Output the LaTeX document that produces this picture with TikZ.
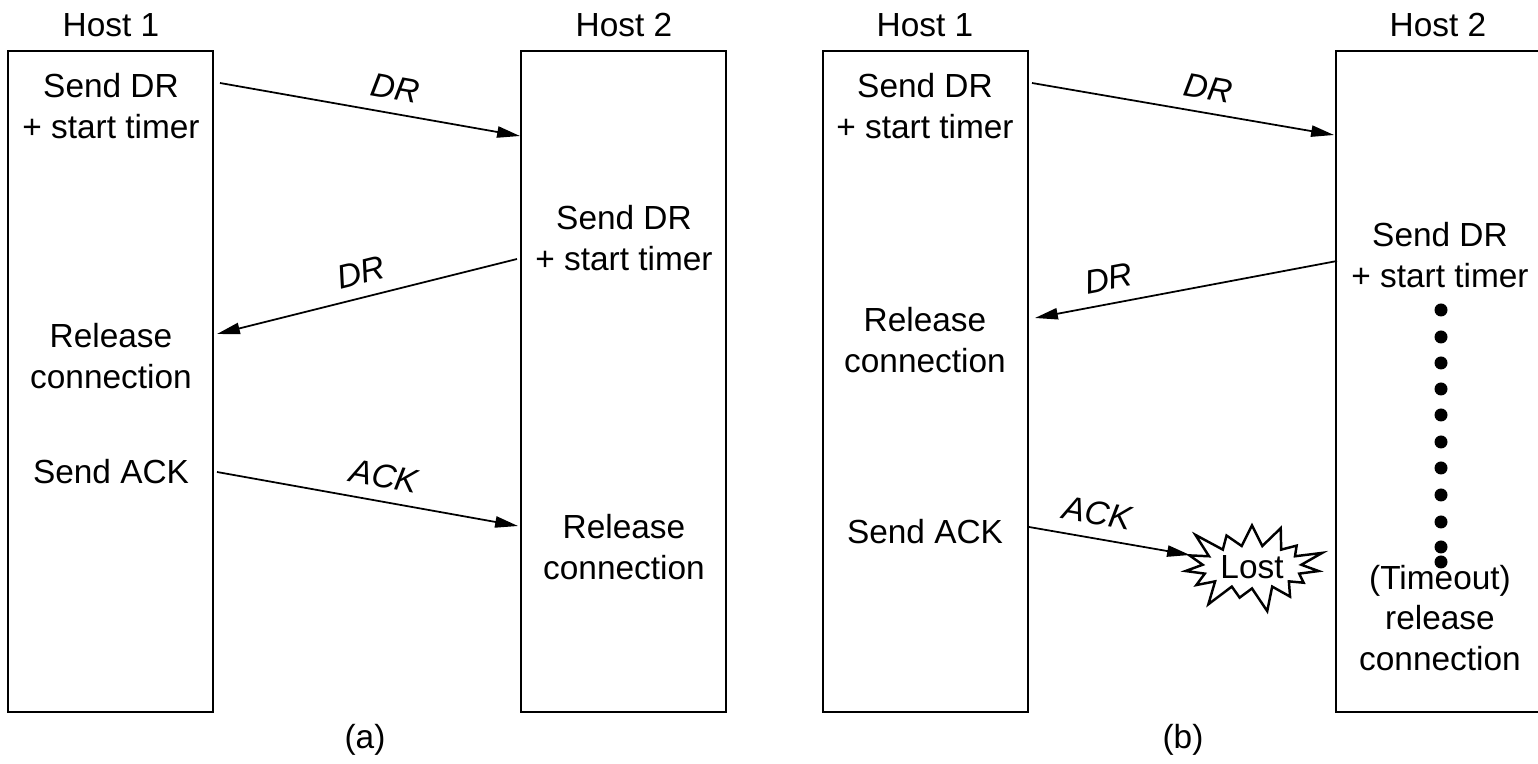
\documentclass[tikz,border=0pt]{standalone}
\usepackage{fontspec}
\setmainfont{Liberation Sans}
\usepackage{tikz}
\usetikzlibrary{arrows.meta,shapes.symbols}

\begin{document}
\begin{tikzpicture}[x=0.01cm,y=-0.01cm,font=\fontsize{9.5}{11.5}\selectfont,
  hostbox/.style={draw,line width=.7pt},
  msg/.style={line width=.5pt,-{Triangle[length=6.5pt,width=3.2pt]}},
  back/.style={line width=.5pt,{Triangle[length=6.5pt,width=3.2pt]}-},
  tag/.style={font=\fontsize{9.5}{11.5}\selectfont\itshape,sloped,above=.3pt},
  txt/.style={align=center,inner sep=0pt}]
  \useasboundingbox (0,0) rectangle (1538,764);

  % (a) normal release
  \draw[hostbox] (8,51) rectangle (213,712);
  \draw[hostbox] (521,51) rectangle (726,712);
  \node[txt] (hostAone) at (111,25) {Host 1};
  \node[txt] (hostAtwo) at (624,25) {Host 2};
  \node[txt] (sendA) at (111,106) {Send DR\\+ start timer};
  \node[txt] (sendAtwo) at (624,238) {Send DR\\+ start timer};
  \node[txt] (relA) at (111,356) {Release\\connection};
  \node[txt] (ackA) at (111,472) {Send ACK};
  \node[txt] (relAtwo) at (624,547) {Release\\connection};
  \node[txt] (capA) at (365,740) {(a)};

  \coordinate (drAs) at (220,83);  \coordinate (drAe) at (520,136);
  \coordinate (dbAs) at (517,259); \coordinate (dbAe) at (217,334);
  \coordinate (akAs) at (217,472); \coordinate (akAe) at (518,526);
  \draw[msg] (drAs) -- (drAe) node[tag,pos=.57] {DR};
  \draw[back] (dbAe) -- (dbAs) node[tag,pos=.5] {DR};
  \draw[msg] (akAs) -- (akAe) node[tag,pos=.54] {ACK};

  % (b) final ACK lost
  \draw[hostbox] (823,51) rectangle (1028,712);
  \draw[hostbox] (1336,51) rectangle (1541,712);
  \node[txt] (hostBone) at (925,25) {Host 1};
  \node[txt] (hostBtwo) at (1438,25) {Host 2};
  \node[txt] (sendB) at (925,106) {Send DR\\+ start timer};
  \node[txt] (sendBtwo) at (1440,255) {Send DR\\+ start timer};
  \node[txt] (relB) at (925,340) {Release\\connection};
  \node[txt] (ackB) at (925,532) {Send ACK};
  \node[txt] (timeoutB) at (1440,618) {(Timeout)\\release\\connection};
  \node[txt] (capB) at (1183,740) {(b)};
  \node[starburst,draw,line width=.7pt,fill=white,inner sep=1pt,
    minimum width=40pt,minimum height=23.5pt,starburst points=15,
    starburst point height=8pt] (lost) at (1252,567) {Lost};

  \foreach \y in {310,337,363,389,415,442,468,495,522,547,562}
    \fill (1441,\y) circle (6.5);

  \coordinate (drBs) at (1032,83);  \coordinate (drBe) at (1334,135);
  \coordinate (dbBs) at (1337,261); \coordinate (dbBe) at (1035,318);
  \coordinate (akBs) at (1029,527); \coordinate (akBe) at (1190,555);
  \draw[msg] (drBs) -- (drBe) node[tag,pos=.57] {DR};
  \draw[back] (dbBe) -- (dbBs) node[tag,pos=.26] {DR};
  \draw[msg] (akBs) -- (akBe) node[tag,pos=.4] {ACK};
\end{tikzpicture}
\end{document}
